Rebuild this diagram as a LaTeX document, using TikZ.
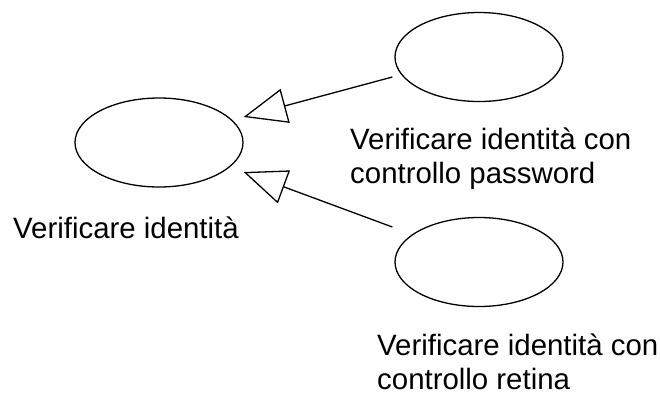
\documentclass[tikz,border=0pt]{standalone}
\usepackage{fontspec}
\setmainfont{Liberation Sans}
\usetikzlibrary{shapes.geometric,arrows.meta,calc}
\begin{document}
\begin{tikzpicture}[x=1pt,y=-1pt,
  usecase/.style={draw,ellipse,line width=1.3pt,minimum width=168pt,minimum height=89pt,inner sep=0pt},
  lbl/.style={font=\fontsize{29.4}{34}\selectfont,align=left,anchor=base west,inner sep=0pt},
  gen/.style={line width=1.3pt,-{Triangle[open,length=43pt,width=35pt]}}]
\useasboundingbox (0,0) rectangle (660,392);
\node[usecase] (le) at (159,142.5) {};
\node[usecase] (tr) at (479,57) {};
\node[usecase] (br) at (479,262) {};
\node[lbl] (lv) at (13,238) {Verificare identità};
\node[lbl] (lp) at (350,183) {Verificare identità con\\controllo password};
\node[lbl] (lr) at (377,389) {Verificare identità con\\controllo retina};
\draw[gen] ([xshift=-2pt,yshift=-20pt]tr.west) -- ([yshift=25.5pt]le.east);
\draw[gen] ([xshift=-2pt,yshift=35pt]br.west) -- ([yshift=-29.5pt]le.east);
\end{tikzpicture}
\end{document}
